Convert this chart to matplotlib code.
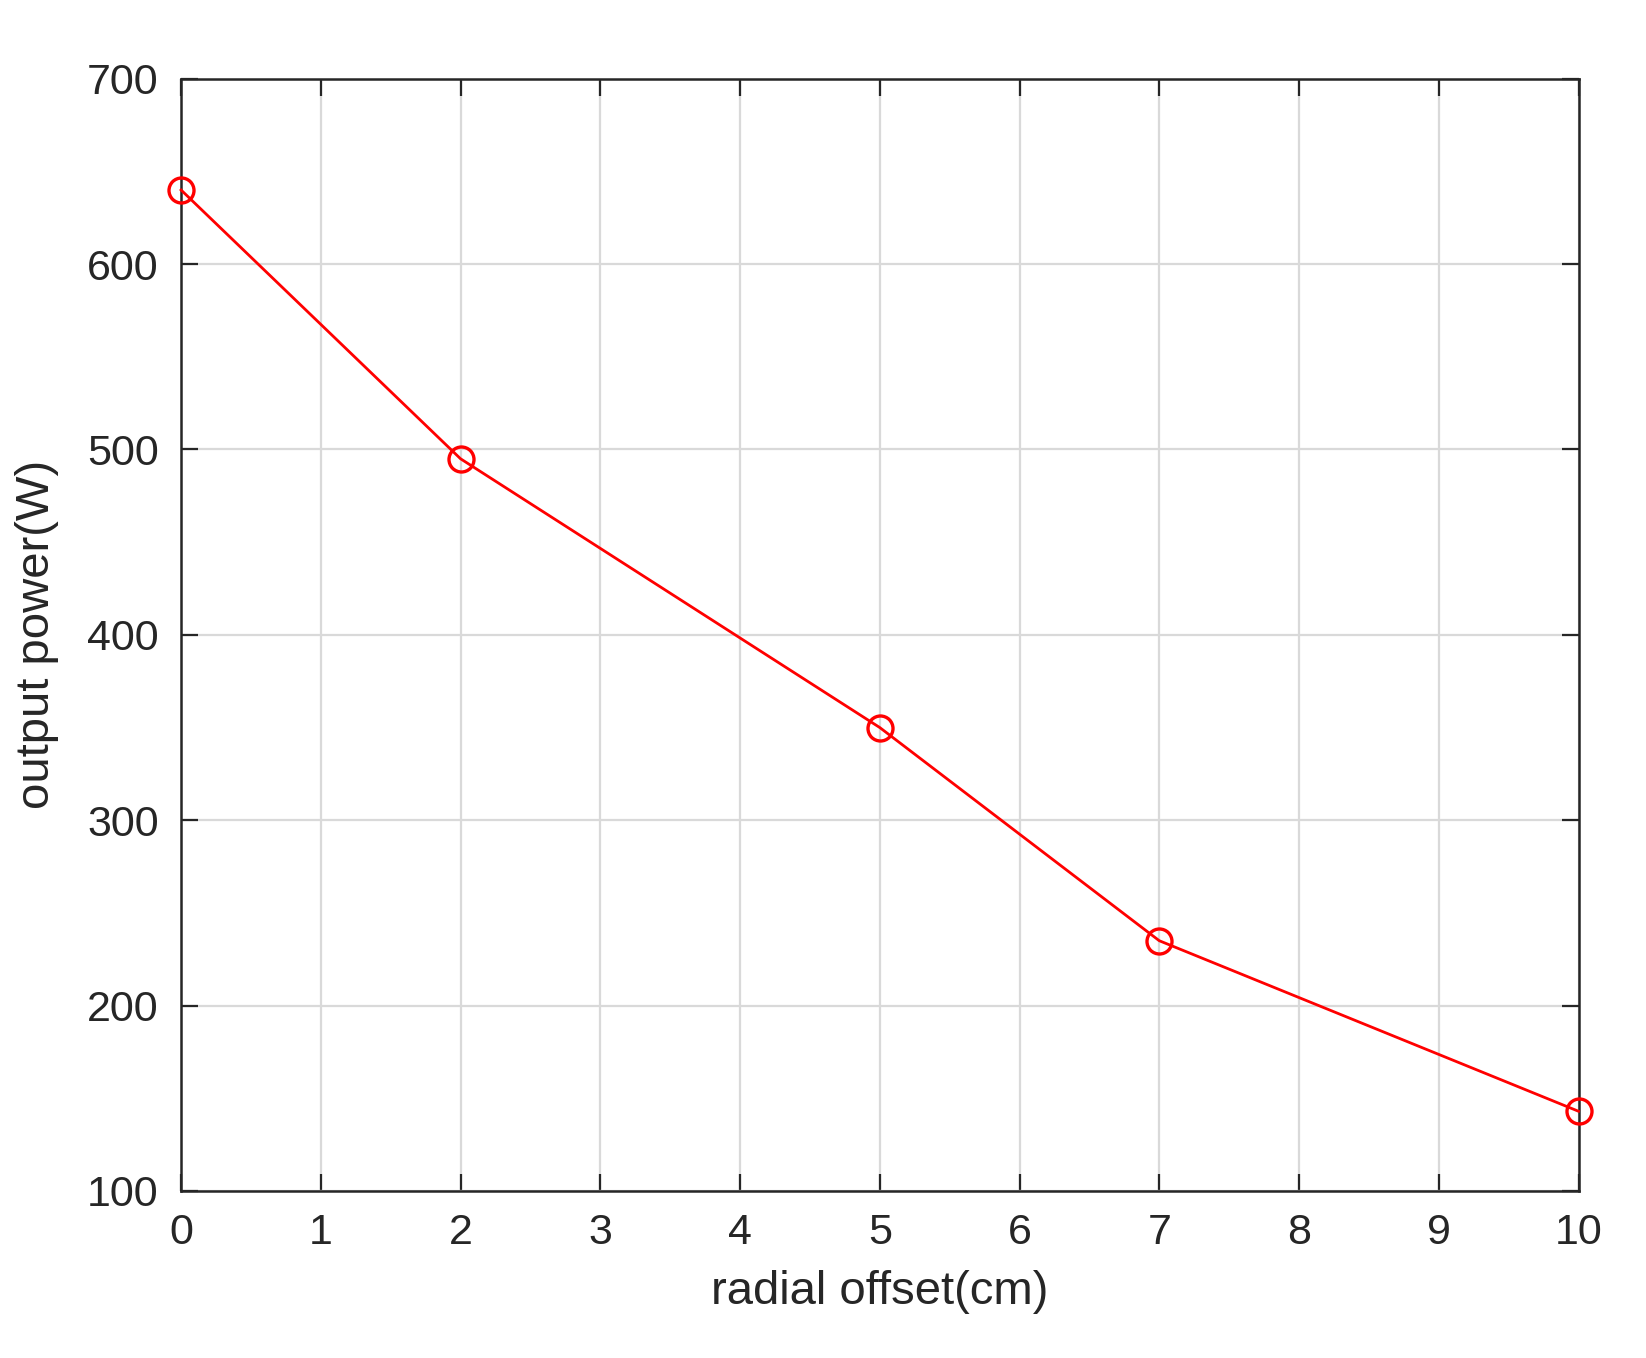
import matplotlib
matplotlib.use("Agg")
import matplotlib.pyplot as plt

x = [0, 2, 5, 7, 10]
y = [640, 495, 350, 235, 143]
xticks = list(range(0, 11))
yticks = list(range(100, 701, 100))

plt.rcParams['font.family'] = ['Liberation Sans', 'DejaVu Sans']
fig = plt.figure(figsize=(8.23, 6.79), dpi=200)
ax = fig.add_axes([0.110, 0.123, 0.849, 0.819])
ax.plot(x, y, color='red', lw=1.0, marker='o', ms=9, mfc='none', mec='red', mew=1.2, clip_on=False, zorder=3)
ax.set_xlim(0, 10)
ax.set_ylim(100, 700)
ax.set_xticks(xticks)
ax.set_yticks(yticks)
ax.grid(True, color='#d9d9d9', lw=0.8)
ax.tick_params(direction='in', top=True, right=True, labelsize=15.5, colors='#262626', length=6, pad=8)
for s in ax.spines.values():
    s.set_color('#262626'); s.set_linewidth(0.9)
ax.set_xlabel('radial offset(cm)', fontsize=17, color='#262626', labelpad=6)
ax.set_ylabel('output power(W)', fontsize=17, color='#262626', labelpad=10)
fig.savefig('out.png', dpi=200, facecolor='white')
